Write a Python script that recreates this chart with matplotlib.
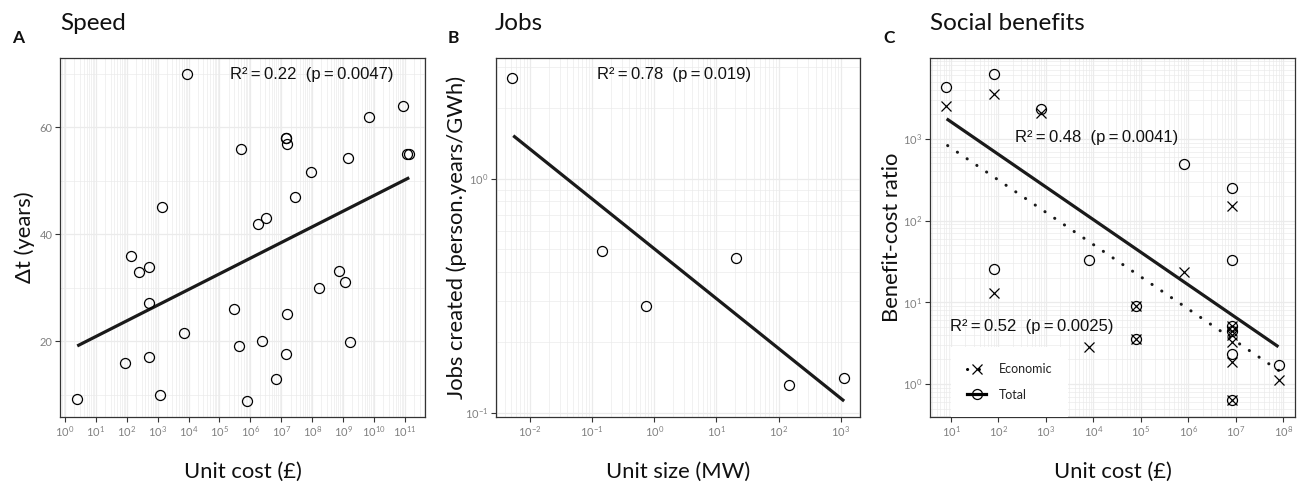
import numpy as np
import matplotlib
matplotlib.use("Agg")
import matplotlib.pyplot as plt
from matplotlib.ticker import FixedLocator, NullFormatter, LogFormatterSciNotation
from matplotlib.lines import Line2D

plt.rcParams['font.family'] = ['Lato', 'DejaVu Sans']

# ---------------- Panel A: Speed ----------------
speed_cost = [2.4, 8.7e3, 87, 138, 257, 537, 513, 525, 1150, 1350, 6900,
              3.0e5, 4.4e5, 5.1e5, 7.6e5, 1.78e6, 3.1e6, 2.45e6, 6.8e6,
              1.41e7, 1.45e7, 1.48e7, 1.48e7, 1.41e7, 2.8e7, 9.3e7, 1.66e8,
              7.2e8, 1.17e9, 1.45e9, 1.66e9, 7.1e9, 8.5e10, 1.15e11, 1.38e11]
speed_dt = [9.1, 70, 16.0, 36, 33, 33.8, 27.1, 17.1, 9.9, 45.1, 21.5,
            26, 19, 56, 8.75, 41.9, 43, 20.1, 12.9,
            58.1, 58.0, 56.9, 25, 17.5, 46.9, 51.7, 29.9,
            33.2, 31, 54.3, 19.8, 62, 64, 55.1, 55.1]
speed_fit_x = [2.5, 1.38e11]
speed_fit_y = [19.1, 50.6]
speed_label = "R\u00b2\u2009=\u20090.22  (p\u2009=\u20090.0047)"
speed_xticks = [1e0, 1e1, 1e2, 1e3, 1e4, 1e5, 1e6, 1e7, 1e8, 1e9, 1e10, 1e11]
speed_yticks = [20, 40, 60]

# ---------------- Panel B: Jobs ----------------
jobs_size = [0.0051, 0.142, 0.743, 20.6, 148, 1135]
jobs_val = [2.69, 0.493, 0.286, 0.457, 0.131, 0.141]
jobs_fit_x = [0.0054, 1135]
jobs_fit_y = [1.53, 0.112]
jobs_label = "R\u00b2\u2009=\u20090.78  (p\u2009=\u20090.019)"
jobs_xticks = [1e-2, 1e-1, 1e0, 1e1, 1e2, 1e3]
jobs_yticks = [1e-1, 1e0]

# ---------------- Panel C: Social benefits ----------------
soc_cost = [8, 80, 800, 80, 8e3, 8e4, 8e4, 8e5,
            8.2e6, 8.2e6, 8.2e6, 8.2e6, 8.2e6, 8.2e6, 8.3e7]
soc_total = [4300, 6140, 2350, 25.2, 32.5, 9.0, 3.5, 493,
             253, 32.8, 5.1, 4.4, 2.3, 0.63, 1.69]
econ_cost = [8, 80, 800, 80, 8e3, 8e4, 8e4, 8e5,
             8.2e6, 8.2e6, 8.2e6, 8.2e6, 8.2e6, 8.2e6, 8.2e6, 8.3e7]
soc_econ = [2540, 3560, 2060, 12.8, 2.84, 9.0, 3.5, 23.2,
            150, 5.1, 4.4, 4.0, 3.3, 1.85, 0.63, 1.11]
total_fit_x = [8.1, 7.9e7]
total_fit_y = [1760, 2.85]
econ_fit_x = [8.5, 8.3e7]
econ_fit_y = [828, 1.44]
total_label = "R\u00b2\u2009=\u20090.48  (p\u2009=\u20090.0041)"
econ_label = "R\u00b2\u2009=\u20090.52  (p\u2009=\u20090.0025)"
soc_xticks = [1e1, 1e2, 1e3, 1e4, 1e5, 1e6, 1e7, 1e8]
soc_yticks = [1e0, 1e1, 1e2, 1e3]

W, H = 1298, 486
fig = plt.figure(figsize=(W / 100, H / 100), dpi=100)

def px_axes(left, right, top, bottom):
    return fig.add_axes([left / W, 1 - bottom / H, (right - left) / W, (bottom - top) / H])

axA = px_axes(60, 425, 58, 417)
axB = px_axes(496, 860, 58, 417)
axC = px_axes(930, 1295, 58, 417)

GRID = '#EBEBEB'
FRAME = '#333333'
TICKLAB = '#808080'
mk = dict(marker='o', mfc='none', mec='black', ms=7.2, mew=0.9, ls='none')
xk = dict(marker='x', color='black', ms=7.5, mew=0.9, ls='none')

def style(ax):
    ax.set_axisbelow(True)
    for s in ax.spines.values():
        s.set_color(FRAME)
        s.set_linewidth(0.9)
    ax.tick_params(which='major', direction='out', length=3.5, width=0.8,
                   color=FRAME, labelcolor=TICKLAB, labelsize=8, pad=2)
    ax.tick_params(which='minor', length=0)
    ax.grid(which='major', color=GRID, lw=0.9)
    ax.grid(which='minor', color=GRID, lw=0.5)

def minor_log(ticks, lo, hi):
    out = []
    for d in ticks + [ticks[0] / 10, ticks[-1] * 10]:
        for s in range(2, 10):
            v = d * s
            if lo < v < hi:
                out.append(v)
    return sorted(set(out))

def logx(ax, ticks, lo, hi):
    ax.set_xscale('log')
    ax.set_xlim(lo, hi)
    ax.xaxis.set_major_locator(FixedLocator(ticks))
    ax.xaxis.set_minor_locator(FixedLocator(minor_log(ticks, lo, hi)))
    ax.xaxis.set_major_formatter(LogFormatterSciNotation())
    ax.xaxis.set_minor_formatter(NullFormatter())

def logy(ax, ticks, lo, hi):
    ax.set_yscale('log')
    ax.set_ylim(lo, hi)
    ax.yaxis.set_major_locator(FixedLocator(ticks))
    ax.yaxis.set_minor_locator(FixedLocator(minor_log(ticks, lo, hi)))
    ax.yaxis.set_major_formatter(LogFormatterSciNotation())
    ax.yaxis.set_minor_formatter(NullFormatter())

ann = dict(family=['Liberation Sans', 'DejaVu Sans'], fontsize=12, ha='center', va='center', color='#111111')

# Panel A
logx(axA, speed_xticks, 10 ** -0.16, 10 ** 11.65)
axA.set_ylim(5.8, 73)
axA.yaxis.set_major_locator(FixedLocator(speed_yticks))
axA.yaxis.set_minor_locator(FixedLocator([10, 30, 50, 70]))
style(axA)
axA.plot(speed_fit_x, speed_fit_y, color='#1a1a1a', lw=2.3, solid_capstyle='butt')
axA.plot(speed_cost, speed_dt, **mk)
axA.text(10 ** 7.97, 69.9, speed_label, **ann)

# Panel B
logx(axB, jobs_xticks, 10 ** -2.545, 10 ** 3.31)
logy(axB, jobs_yticks, 10 ** -1.019, 10 ** 0.517)
style(axB)
axB.plot(jobs_fit_x, jobs_fit_y, color='#1a1a1a', lw=2.3, solid_capstyle='butt')
axB.plot(jobs_size, jobs_val, **mk)
axB.text(10 ** 0.316, 10 ** 0.446, jobs_label, **ann)

# Panel C
logx(axC, soc_xticks, 10 ** 0.558, 10 ** 8.247)
logy(axC, soc_yticks, 10 ** -0.405, 10 ** 3.99)
style(axC)
dotted = (0, (0.05, 3.8))
axC.plot(total_fit_x, total_fit_y, color='#1a1a1a', lw=2.3, solid_capstyle='butt')
axC.plot(econ_fit_x, econ_fit_y, color='#1a1a1a', lw=2.2, ls=dotted, dash_capstyle='round')
axC.plot(soc_cost, soc_total, **mk)
axC.plot(econ_cost, soc_econ, **xk)
axC.text(10 ** 4.069, 10 ** 3.02, total_label, **ann)
axC.text(10 ** 2.70, 10 ** 0.70, econ_label, **ann)

handles = [
    Line2D([], [], color='black', lw=2.2, ls=dotted, dash_capstyle='round',
           marker='x', ms=7.5, mew=0.9),
    Line2D([], [], color='black', lw=2.3, marker='o', mfc='none', ms=7.2, mew=0.9),
]
leg = axC.legend(handles, ['Economic', 'Total'], loc='lower left',
                 bbox_to_anchor=(21 / 365, 0), borderaxespad=0,
                 frameon=True, fancybox=False, framealpha=1, facecolor='white',
                 edgecolor='none', fontsize=9, handlelength=1.5,
                 borderpad=1.3, labelspacing=1.1, handletextpad=1.0)
for t in leg.get_texts():
    t.set_color('#222222')

# Titles, panel letters, axis labels
title_kw = dict(fontsize=17.5, va='baseline', ha='left', color='#111111')
fig.text(60 / W, 1 - 29.5 / H, 'Speed', **title_kw)
fig.text(495 / W, 1 - 29.5 / H, 'Jobs', **title_kw)
fig.text(930 / W, 1 - 29.5 / H, 'Social benefits', **title_kw)

letter_kw = dict(fontsize=12.5, fontweight='bold', va='baseline', ha='left', color='#111111')
fig.text(12 / W, 1 - 43 / H, 'A', **letter_kw)
fig.text(448 / W, 1 - 43 / H, 'B', **letter_kw)
fig.text(883 / W, 1 - 43 / H, 'C', **letter_kw)

lab_kw = dict(fontsize=15.8, ha='center', va='center', color='#111111')
fig.text(242.5 / W, 1 - 472 / H, 'Unit cost (£)', **lab_kw)
fig.text(678 / W, 1 - 472 / H, 'Unit size (MW)', **lab_kw)
fig.text(1112.5 / W, 1 - 472 / H, 'Unit cost (£)', **lab_kw)
fig.text(25 / W, 1 - 237.5 / H, 'Δt (years)', rotation=90, **lab_kw)
fig.text(457 / W, 1 - 237.5 / H, 'Jobs created (person.years/GWh)', rotation=90, **lab_kw)
fig.text(892 / W, 1 - 237.5 / H, 'Benefit-cost ratio', rotation=90, **lab_kw)

fig.savefig('out.png', dpi=100, facecolor='white')
